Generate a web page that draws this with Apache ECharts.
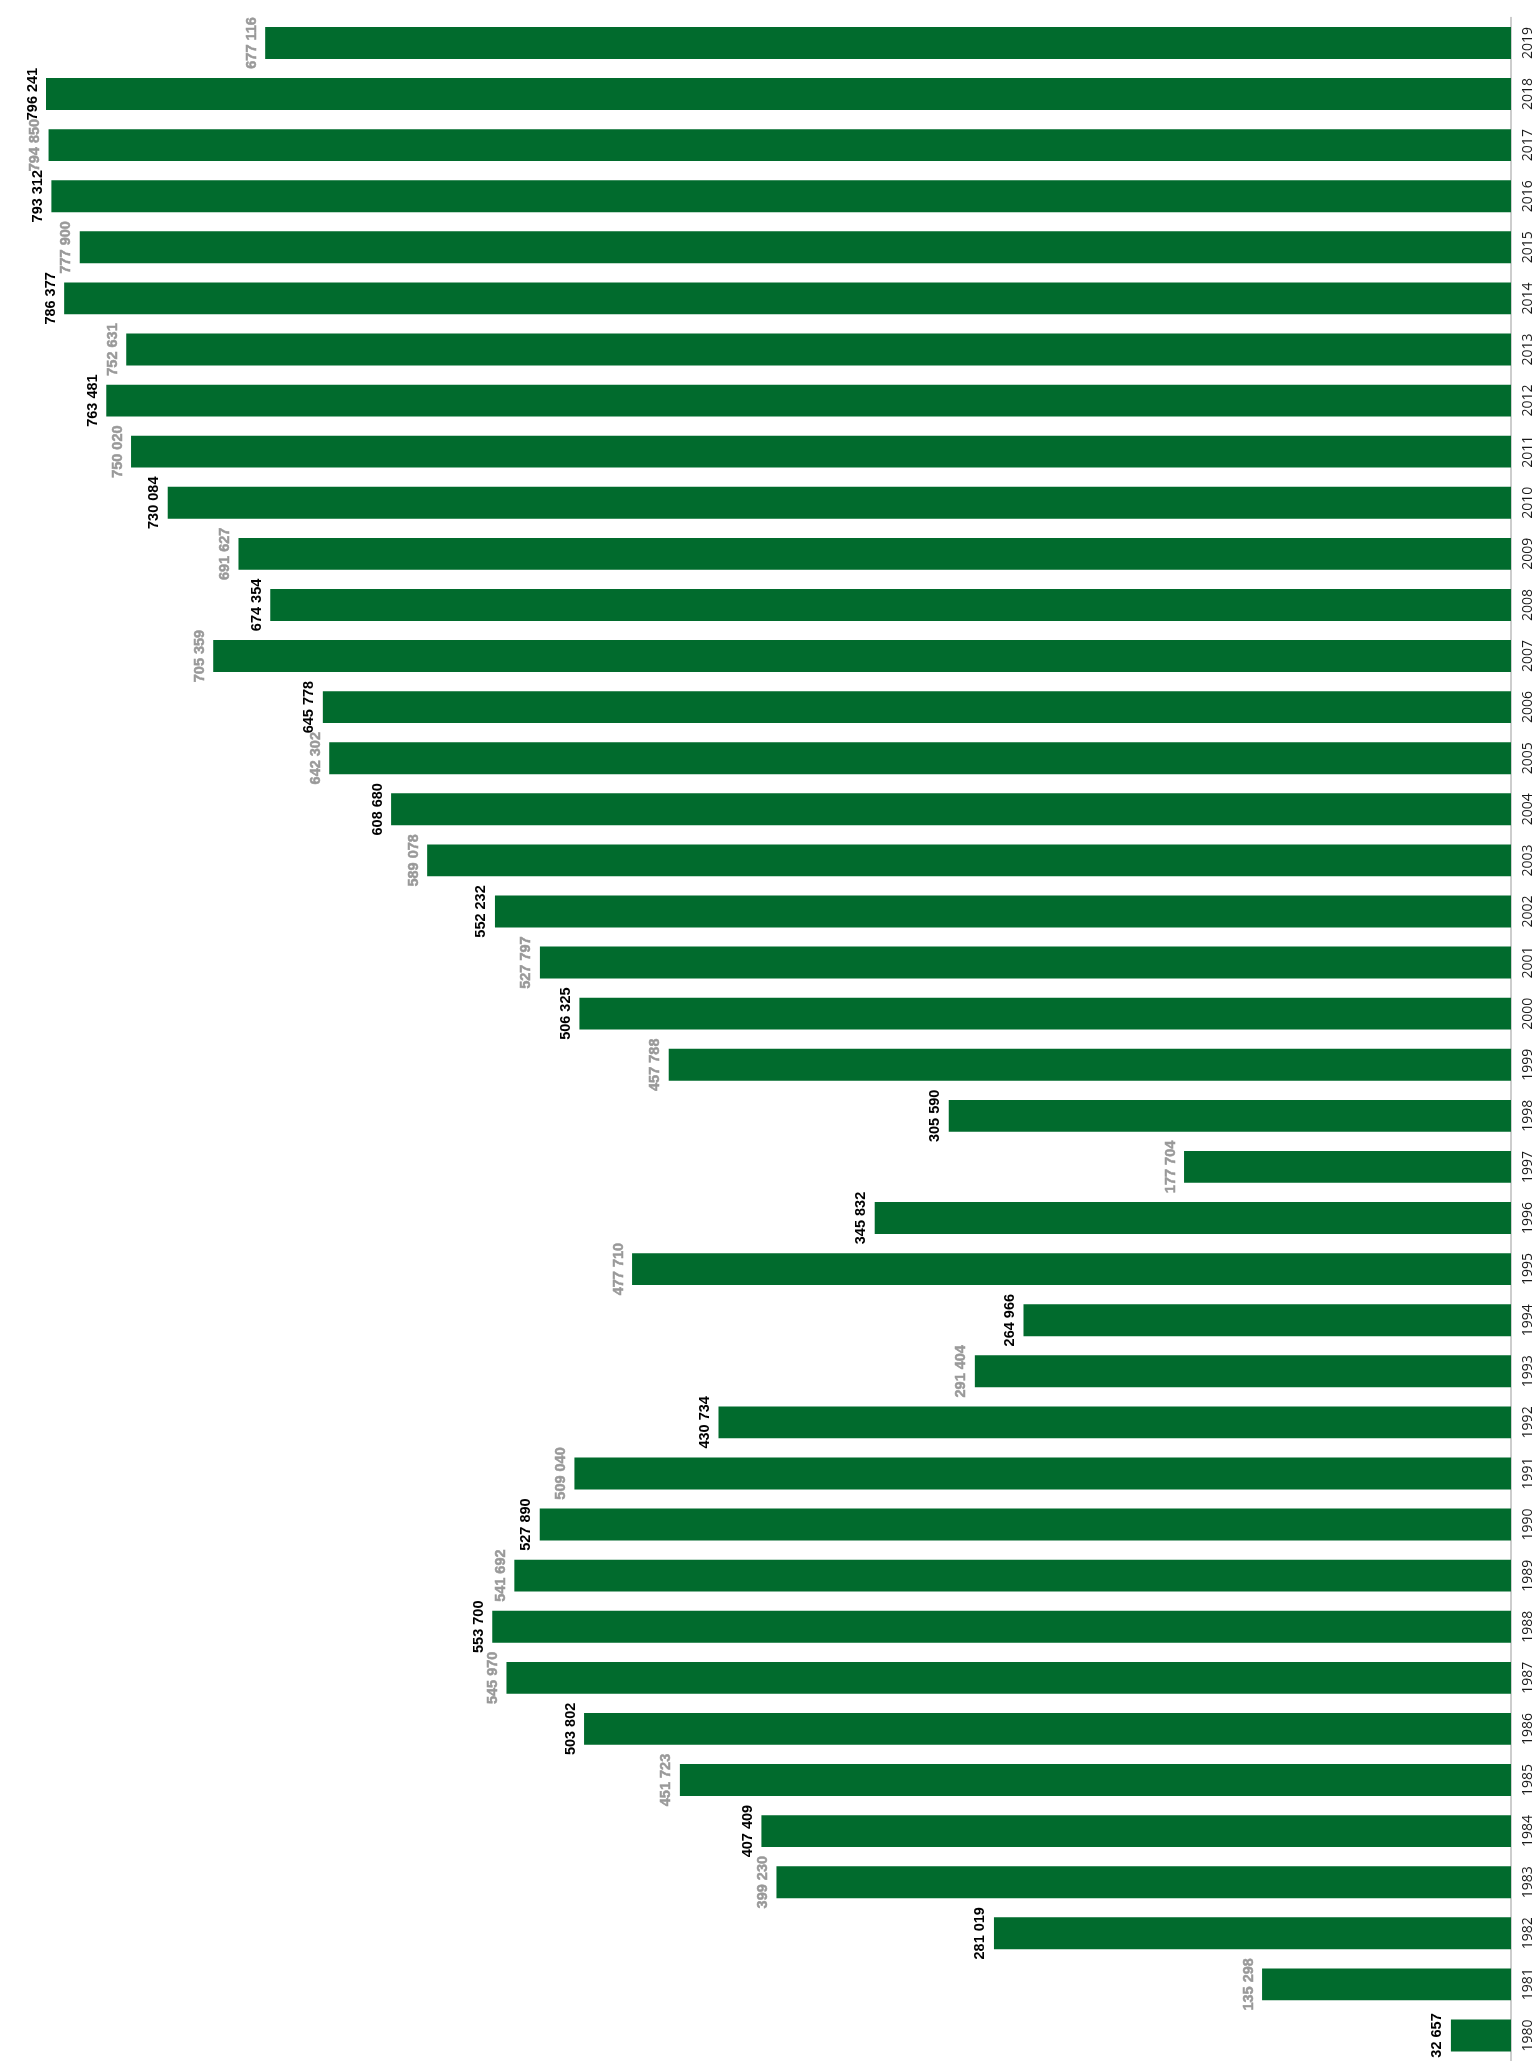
<!DOCTYPE html>
<html>
<head>
<meta charset="utf-8">
<script src="https://cdn.jsdelivr.net/npm/echarts@6/dist/echarts.min.js"></script>
<style>
html,body{margin:0;padding:0;background:#fff;}
#chart{width:1537px;height:2061px;}
</style>
</head>
<body>
<div id="chart"></div>
<script>
var years = ['1980','1981','1982','1983','1984','1985','1986','1987','1988','1989',
  '1990','1991','1992','1993','1994','1995','1996','1997','1998','1999',
  '2000','2001','2002','2003','2004','2005','2006','2007','2008','2009',
  '2010','2011','2012','2013','2014','2015','2016','2017','2018','2019'];
var values = [32657,135298,281019,399230,407409,451723,503802,545970,553700,541692,
  527890,509040,430734,291404,264966,477710,345832,177704,305590,457788,
  506325,527797,552232,589078,608680,642302,645778,705359,674354,691627,
  730084,750020,763481,752631,786377,777900,793312,794850,796241,677116];

function fmt(v){ return String(v).replace(/\B(?=(\d{3})+(?!\d))/g,' '); }

var data = values.map(function(v,i){
  var dark = (i % 2 === 0);
  return {
    value: v,
    label: dark ? {color: '#000000', fontWeight: 'bold'}
                : {color: '#999999', fontWeight: 'bold', textBorderColor: '#999999', textBorderWidth: 0.5}
  };
});

var chart = echarts.init(document.getElementById('chart'), null, {renderer:'canvas'});
chart.setOption({
  animation: false,
  backgroundColor: '#ffffff',
  grid: {left: 46, right: 26, top: 17.4, height: 2051.3, containLabel: false},
  xAxis: {
    type: 'value', inverse: true, min: 0, max: 796241, show: false
  },
  yAxis: {
    type: 'category', position: 'right', data: years,
    axisLine: {show: true, lineStyle: {color: '#bdbdbd', width: 1.5}},
    axisTick: {show: false},
    axisLabel: {
      rotate: 90, margin: 10, color: '#1a1a1a',
      fontFamily: 'Open Sans', fontSize: 14
    }
  },
  series: [{
    type: 'bar',
    data: data,
    barCategoryGap: '37.6%',
    itemStyle: {color: '#016b2d'},
    label: {
      show: true, position: 'left', distance: 6, rotate: 90,
      align: 'center', verticalAlign: 'bottom',
      fontFamily: 'Liberation Sans', fontWeight: 'bold', fontSize: 14.5,
      formatter: function(p){ return fmt(p.value); }
    }
  }]
});
</script>
</body>
</html>
